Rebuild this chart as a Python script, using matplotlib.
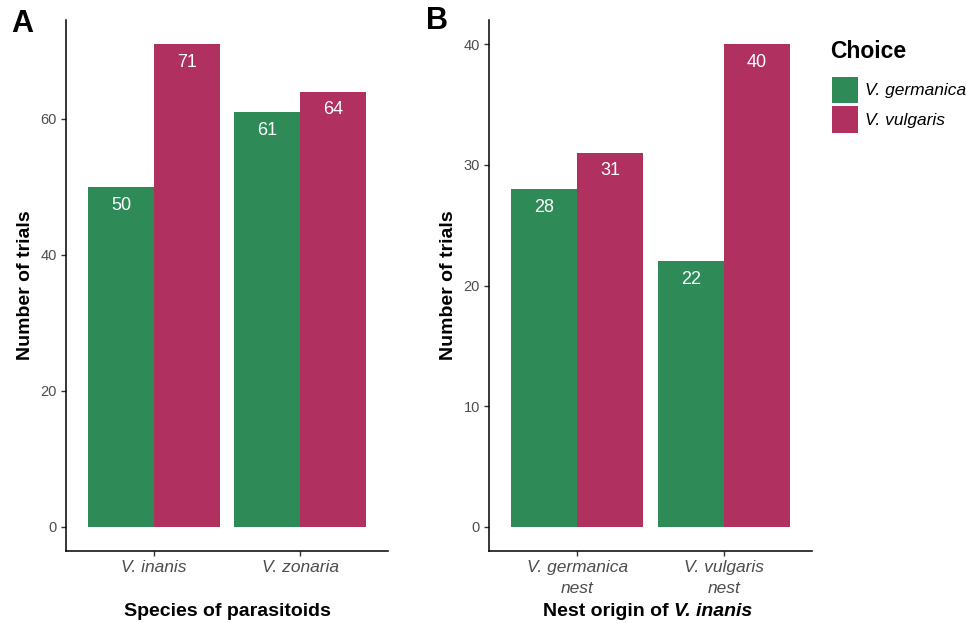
import matplotlib.pyplot as plt
from matplotlib.patches import Patch
import numpy as np

plt.rcParams['font.family'] = ['Liberation Sans', 'DejaVu Sans']

# panel A data
species = ['V. inanis', 'V. zonaria']
a_germanica = [50, 61]
a_vulgaris = [71, 64]

# panel B data
nests = ['V. germanica\nnest', 'V. vulgaris\nnest']
b_germanica = [28, 22]
b_vulgaris = [31, 40]

choices = ['V. germanica', 'V. vulgaris']
colors = ['#2E8B57', '#B03060']

W, H = 966, 623
fig = plt.figure(figsize=(W / 100, H / 100), dpi=100)


def make_axes(left, right, top=20, bottom=551):
    return fig.add_axes([left / W, 1 - bottom / H, (right - left) / W, (bottom - top) / H])


def draw_panel(ax, cats, germ, vulg, ymax, yticks):
    x = np.arange(1, len(cats) + 1)
    w = 0.45
    for vals, off, col in [(germ, -w / 2, colors[0]), (vulg, w / 2, colors[1])]:
        bars = ax.bar(x + off, vals, width=w, color=col, linewidth=0)
        for b, v in zip(bars, vals):
            ax.annotate(str(v), (b.get_x() + b.get_width() / 2, v),
                        xytext=(0, -7), textcoords='offset points',
                        ha='center', va='top', color='white', fontsize=13)
    ax.set_xlim(0.4, len(cats) + 0.6)
    ax.set_ylim(-0.05 * ymax, 1.05 * ymax)
    ax.set_yticks(yticks)
    ax.set_xticks(x)
    ax.set_xticklabels(cats, fontstyle='italic', fontsize=12.5, color='#4D4D4D',
                       linespacing=1.5)
    ax.tick_params(axis='y', labelsize=10.5, labelcolor='#4D4D4D')
    ax.tick_params(length=3.5, width=1, color='#333333', pad=3)
    for s in ['top', 'right']:
        ax.spines[s].set_visible(False)
    for s in ['left', 'bottom']:
        ax.spines[s].set_linewidth(1.1)
    ax.set_ylabel('Number of trials', fontsize=14, fontweight='bold', labelpad=5)


axA = make_axes(66, 388)
draw_panel(axA, species, a_germanica, a_vulgaris, 71, [0, 20, 40, 60])
axA.set_xlabel('Species of parasitoids', fontsize=14, fontweight='bold', labelpad=20)

axB = make_axes(489, 812)
draw_panel(axB, nests, b_germanica, b_vulgaris, 40, [0, 10, 20, 30, 40])

# mixed bold / bold-italic x label for panel B
t1 = fig.text(543 / W, 1 - 611 / H, 'Nest origin of ', fontsize=14, fontweight='bold',
              ha='left', va='center')
axB.annotate('V. inanis', xy=(1, 0), xycoords=t1, va='bottom', ha='left',
             fontsize=14, fontweight='bold', fontstyle='italic')

fig.text(11 / W, 1 - 24 / H, 'A', fontsize=22, fontweight='bold', va='center')
fig.text(426 / W, 1 - 21 / H, 'B', fontsize=22, fontweight='bold', va='center')

# legend, title placed separately to get the gap above the keys
fig.text(830 / W, 1 - 51 / H, 'Choice', fontsize=16.5, fontweight='bold',
         ha='left', va='center')
handles = [Patch(facecolor=c, linewidth=0) for c in colors]
leg = fig.legend(handles, choices, loc='upper left', bbox_to_anchor=(823 / W, 1 - 68 / H),
                 frameon=False, prop={'style': 'italic', 'size': 12.5},
                 handlelength=1.5, handleheight=1.95, labelspacing=0.2,
                 handletextpad=0.4, borderpad=0)

fig.savefig('out.png', dpi=100)
